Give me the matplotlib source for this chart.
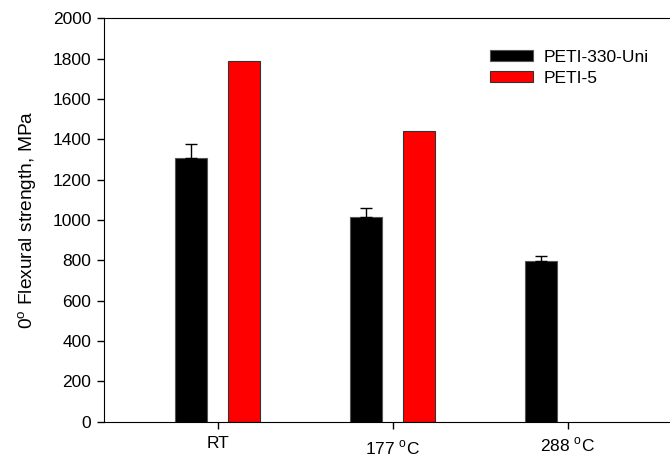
import numpy as np
import matplotlib
matplotlib.use('Agg')
import matplotlib.pyplot as plt
import matplotlib.transforms as mtransforms

plt.rcParams['font.family'] = ['Liberation Sans', 'DejaVu Sans']
plt.rcParams['mathtext.fontset'] = 'custom'
plt.rcParams['mathtext.rm'] = 'Liberation Sans'

categorias = ['RT', '177 $^\\mathregular{o}$C', '288 $^\\mathregular{o}$C']
peti330 = [1306, 1016, 797]
peti330_err = [70, 42, 23]
peti5 = [1790, 1443, 0]

x = np.arange(len(categorias))
w = 0.18

fig = plt.figure(figsize=(6.7, 4.58), dpi=100)
ax = fig.add_axes([0.155, 0.0793, 0.862, 0.881])

ax.bar(x - 0.151, peti330, w, color='black', edgecolor='#555555', linewidth=0.8,
       label='PETI-330-Uni', yerr=[np.zeros(3), peti330_err],
       error_kw=dict(ecolor='black', elinewidth=1, capsize=4.5, capthick=1))
ax.bar(x[:2] + 0.151, peti5[:2], w, color='#ff0000', edgecolor='#333333', linewidth=0.8,
       label='PETI-5')

ax.set_xlim(-0.65, 2.65)
ax.set_ylim(0, 2000)
ax.set_yticks(np.arange(0, 2001, 200))
ax.set_xticks(x)
ax.set_xticklabels(categorias)
ax.tick_params(direction='out', length=5, labelsize=12.5, width=1)
ax.tick_params(axis='y', pad=4)
ax.tick_params(axis='x', pad=5)
ax.spines['right'].set_visible(False)
ax.set_ylabel('0$^\\mathregular{o}$ Flexural strength, MPa', fontsize=13.8, labelpad=10)

# o rotulo do meio aparece um pouco mais baixo no original
lbl = ax.get_xticklabels()[1]
lbl.set_transform(lbl.get_transform() + mtransforms.ScaledTranslation(0, -3 / 100, fig.dpi_scale_trans))

ax.legend(loc='upper left', bbox_to_anchor=(490 / 670, 1 - 50 / 458),
          bbox_transform=fig.transFigure, frameon=False, fontsize=12.5,
          borderpad=0, borderaxespad=0, handlelength=2.5, handleheight=0.6,
          labelspacing=0.35, handletextpad=0.6)

fig.savefig('out.png', dpi=100)
